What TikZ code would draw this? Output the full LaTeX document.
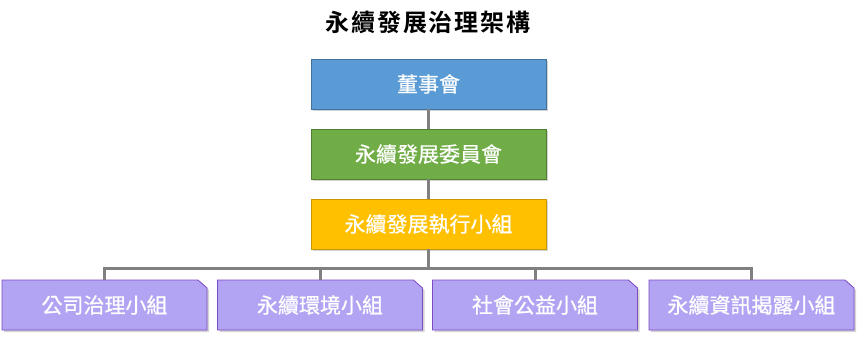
\documentclass[tikz,border=0pt]{standalone}
\usepackage{fontspec}
\setmainfont{Noto Sans CJK TC}
\newfontfamily\boxfont[FakeBold=0.6]{Noto Sans CJK TC}
\newfontfamily\titlefont[LetterSpace=8]{Noto Sans CJK TC Bold}
\usetikzlibrary{shadows}
\definecolor{bluef}{RGB}{91,155,213}
\definecolor{blued}{RGB}{65,113,156}
\definecolor{greenf}{RGB}{112,173,71}
\definecolor{greend}{RGB}{80,126,50}
\definecolor{yellowf}{RGB}{255,192,0}
\definecolor{yellowd}{RGB}{200,150,0}
\definecolor{purplef}{RGB}{178,164,242}
\definecolor{purpled}{RGB}{125,75,195}
\definecolor{linec}{RGB}{128,128,128}
\tikzset{
  topbox/.style={minimum width=235pt, minimum height=50pt, inner sep=0pt,
    text=white, font=\boxfont\fontsize{21pt}{24pt}\selectfont, line width=0.8pt,
    drop shadow={shadow xshift=2pt, shadow yshift=-2pt, opacity=0.35}},
  subbox/.style={minimum width=205pt, minimum height=50pt, inner sep=0pt,
    text=white, font=\boxfont\fontsize{21pt}{24pt}\selectfont},
  conn/.style={draw=linec, line width=3pt},
  foldshape/.style={fill=purplef, draw=purpled, line width=0.8pt,
    drop shadow={shadow xshift=2pt, shadow yshift=-2pt, opacity=0.35}}
}
\begin{document}
\begin{tikzpicture}[x=1pt,y=-1pt]
\useasboundingbox (0,0) rectangle (862,343);
\node[font=\titlefont\fontsize{24pt}{28pt}\selectfont] (title) at (428,22) {永續發展治理架構};
\node[topbox, fill=bluef, draw=blued] (bod) at (428.5,84) {董事會};
\node[topbox, fill=greenf, draw=greend] (sdc) at (428.5,154) {永續發展委員會};
\node[topbox, fill=yellowf, draw=yellowd] (sdt) at (428.5,224) {永續發展執行小組};
\coordinate (bus) at (428.5,268);
\foreach \cx in {104.5,320,535,751.5}{
  \path[foldshape] (\cx-102.5,280) -- (\cx+93.5,280) -- (\cx+102.5,288) -- (\cx+102.5,330) -- (\cx-102.5,330) -- cycle;
}
\node[subbox] (g1) at (104.5,305) {公司治理小組};
\node[subbox] (g2) at (320,305) {永續環境小組};
\node[subbox] (g3) at (535,305) {社會公益小組};
\node[subbox] (g4) at (751.5,305) {永續資訊揭露小組};
\draw[conn] (bod.south) -- (sdc.north);
\draw[conn] (sdc.south) -- (sdt.north);
\draw[conn] (sdt.south) -- (bus);
\foreach \g in {g1,g2,g3,g4}{
  \draw[conn] (bus) -| (\g.north);
}
\end{tikzpicture}
\end{document}
